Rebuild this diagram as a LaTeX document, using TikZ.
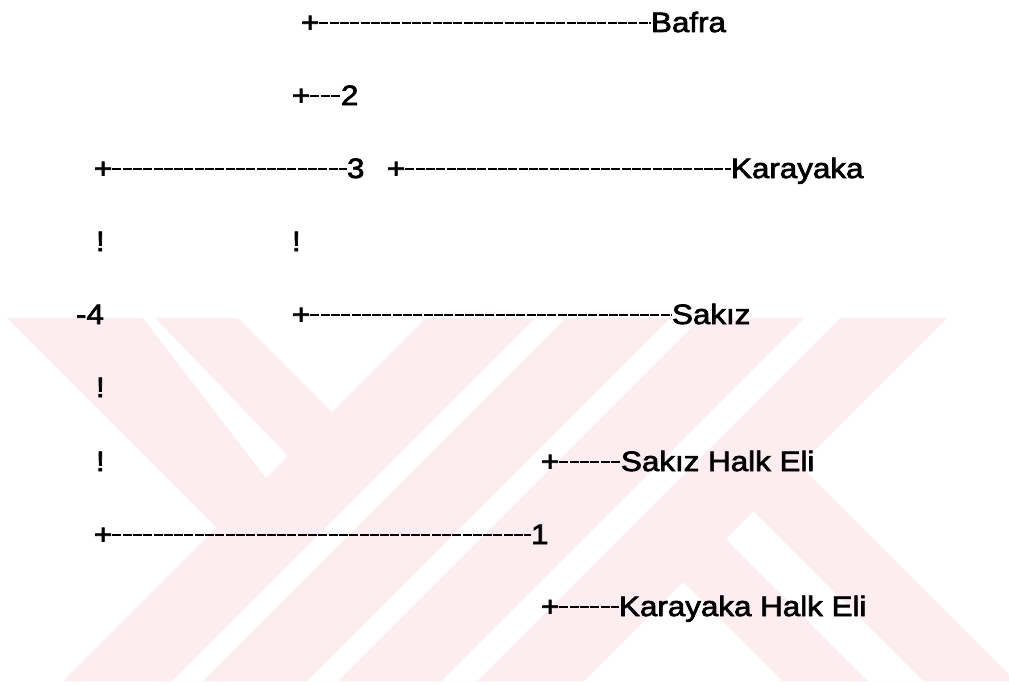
\documentclass[tikz,border=0pt]{standalone}
\usepackage{fontspec}
\setmainfont{Liberation Sans}[FakeStretch=1.12,FakeBold=2.5]
\definecolor{wm}{RGB}{253,236,240}
\begin{document}
\begin{tikzpicture}[x=1pt,y=-1pt,
  tx/.style={inner sep=0pt, outer sep=0pt, anchor=base west, font=\fontsize{28}{34}\selectfont},
  dl/.style={line width=2.8pt, dash pattern=on 9pt off 1.3pt}]
\useasboundingbox (0,0) rectangle (1009,685);
\fill[white] (0,0) rectangle (1009,685);
% watermark
\begin{scope}
\clip (0,0) rectangle (1009,685);
\fill[wm] (7,318) -- (238,318) -- (332,412) -- (216.5,527.5) -- cycle;
\fill[wm] (683,582) -- (799.5,465.5) -- (1015,681) -- (782,681) -- cycle;
\fill[wm] (426,318) -- (947,318) -- (584,681) -- (63,681) -- cycle;
\fill[white] (143,318) -- (155,318) -- (288,456) -- (266,478) -- cycle;
\fill[white] (726,539) -- (753.5,511.5) -- (923,681) -- (868,681) -- cycle;
\fill[white] (535,318) -- (566,318) -- (203,681) -- (172,681) -- cycle;
\fill[white] (670,318) -- (701,318) -- (338,681) -- (307,681) -- cycle;
\fill[white] (805,318) -- (840,318) -- (477,681) -- (442,681) -- cycle;
\end{scope}
% text nodes
\node[tx] (p1) at (301,32) {+};
\node[tx] (bafra) at (651,32) {Bafra};
\node[tx] (p2) at (292,105) {+};
\node[tx] (n2) at (341,105) {2};
\node[tx] (p3) at (94,178) {+};
\node[tx] (n3) at (347,178) {3};
\node[tx] (p3b) at (387,178) {+};
\node[tx] (kar) at (731,178) {Karayaka};
\node[tx] (ex1) at (96,251) {!};
\node[tx] (ex2) at (292,251) {!};
\node[tx] (n4) at (76,324) {-4};
\node[tx] (p5) at (292,324) {+};
\node[tx] (sakiz) at (672,324) {Sakız};
\node[tx] (ex3) at (96,397) {!};
\node[tx] (ex4) at (96,471) {!};
\node[tx] (p7) at (541,471) {+};
\node[tx] (she) at (621,471) {Sakız Halk Eli};
\node[tx] (p8) at (94,544) {+};
\node[tx] (n1) at (531,544) {1};
\node[tx] (p9) at (541,616) {+};
\node[tx] (khe) at (619,616) {Karayaka Halk Eli};
% connectors
\foreach \a/\b in {p1/bafra,p2/n2,p3/n3,p3b/kar,p5/sakiz,p7/she,p8/n1,p9/khe}
  \draw[dl] ([yshift=9pt]\a.base east) -- ([yshift=9pt]\b.base west);
\end{tikzpicture}
\end{document}
